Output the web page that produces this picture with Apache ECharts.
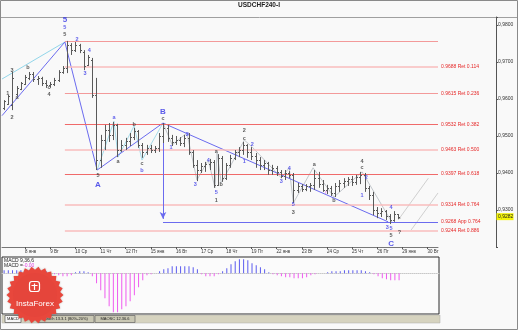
<!DOCTYPE html>
<html><head><meta charset="utf-8">
<script src="https://cdn.jsdelivr.net/npm/echarts@6/dist/echarts.min.js"></script>
<style>html,body{margin:0;padding:0;background:#f9f9f9}#c{width:518px;height:330px}</style>
</head><body><div id="c"></div>
<script>
// ---------------- DATA ----------------
const slotCount = 104;
const tickIndex = [5,11,17,23,29,35,41,47,53,59,65,71,77,83,89,95,101];
const tickText = ['8 янв','9 Вт','10 Ср','11 Чт','12 Пт','15 янв','16 Вт','17 Ср','18 Чт','19 Пт','22 янв','23 Вт','24 Ср','25 Чт','26 Пт','29 янв','30 Вт'];
// OHLC bars: [open, high, low, close]
const ohlc = [
[0.9576,0.9597,0.9570,0.9595],[0.9587,0.9611,0.9584,0.9608],[0.9584,0.9673,0.9570,0.9657],[0.9614,0.9635,0.9608,0.9630],
[0.9627,0.9646,0.9624,0.9643],[0.9641,0.9665,0.9638,0.9660],[0.9657,0.9673,0.9651,0.9668],[0.9668,0.9673,0.9646,0.9654],
[0.9654,0.9662,0.9638,0.9657],[0.9657,0.9660,0.9635,0.9643],[0.9643,0.9651,0.9630,0.9638],[0.9638,0.9646,0.9630,0.9641],
[0.9641,0.9657,0.9635,0.9651],[0.9651,0.9678,0.9646,0.9673],[0.9673,0.9689,0.9668,0.9684],[0.9684,0.9757,0.9670,0.9746],
[0.9746,0.9751,0.9719,0.9732],[0.9732,0.9754,0.9727,0.9746],[0.9746,0.9749,0.9724,0.9732],[0.9727,0.9732,0.9678,0.9689],
[0.9692,0.9719,0.9689,0.9714],[0.9705,0.9711,0.9603,0.9611],[0.9611,0.9657,0.9408,0.9435],[0.9435,0.9503,0.9414,0.9489],
[0.9489,0.9530,0.9462,0.9516],[0.9516,0.9535,0.9484,0.9503],[0.9503,0.9538,0.9489,0.9530],[0.9530,0.9533,0.9443,0.9462],
[0.9462,0.9489,0.9457,0.9476],[0.9476,0.9495,0.9462,0.9487],[0.9487,0.9508,0.9473,0.9497],[0.9497,0.9522,0.9489,0.9514],
[0.9514,0.9516,0.9468,0.9476],[0.9476,0.9481,0.9441,0.9457],[0.9457,0.9476,0.9449,0.9468],[0.9468,0.9476,0.9454,0.9462],
[0.9462,0.9473,0.9454,0.9468],[0.9468,0.9508,0.9457,0.9500],[0.9500,0.9535,0.9481,0.9522],[0.9522,0.9530,0.9484,0.9495],
[0.9495,0.9503,0.9473,0.9484],[0.9484,0.9500,0.9476,0.9489],[0.9489,0.9497,0.9473,0.9481],[0.9481,0.9503,0.9470,0.9495],
[0.9495,0.9508,0.9449,0.9457],[0.9457,0.9462,0.9414,0.9422],[0.9422,0.9435,0.9378,0.9408],[0.9408,0.9427,0.9400,0.9419],
[0.9419,0.9430,0.9403,0.9424],[0.9424,0.9438,0.9408,0.9430],[0.9430,0.9435,0.9360,0.9368],[0.9368,0.9451,0.9365,0.9441],
[0.9441,0.9446,0.9376,0.9386],[0.9386,0.9427,0.9381,0.9422],[0.9422,0.9449,0.9414,0.9441],[0.9441,0.9462,0.9435,0.9457],
[0.9457,0.9470,0.9443,0.9462],[0.9462,0.9484,0.9449,0.9476],[0.9476,0.9478,0.9441,0.9457],[0.9457,0.9470,0.9435,0.9446],
[0.9446,0.9454,0.9414,0.9435],[0.9435,0.9443,0.9408,0.9422],[0.9422,0.9435,0.9408,0.9427],[0.9427,0.9430,0.9395,0.9408],
[0.9408,0.9422,0.9395,0.9414],[0.9414,0.9419,0.9392,0.9403],[0.9403,0.9408,0.9386,0.9392],[0.9392,0.9408,0.9381,0.9400],
[0.9400,0.9405,0.9386,0.9395],[0.9395,0.9400,0.9319,0.9354],[0.9354,0.9373,0.9346,0.9365],[0.9365,0.9370,0.9349,0.9357],
[0.9357,0.9370,0.9351,0.9365],[0.9365,0.9373,0.9349,0.9368],[0.9368,0.9408,0.9354,0.9386],[0.9386,0.9403,0.9360,0.9370],
[0.9370,0.9381,0.9349,0.9354],[0.9354,0.9368,0.9343,0.9360],[0.9360,0.9365,0.9338,0.9346],[0.9346,0.9373,0.9335,0.9365],
[0.9365,0.9381,0.9349,0.9373],[0.9373,0.9386,0.9360,0.9378],[0.9378,0.9389,0.9365,0.9384],[0.9384,0.9392,0.9365,0.9376],
[0.9376,0.9395,0.9368,0.9389],[0.9389,0.9403,0.9370,0.9395],[0.9395,0.9400,0.9349,0.9360],[0.9360,0.9365,0.9327,0.9341],
[0.9341,0.9349,0.9286,0.9300],[0.9300,0.9308,0.9278,0.9292],[0.9292,0.9305,0.9281,0.9297],[0.9297,0.9300,0.9273,0.9284],
[0.9284,0.9289,0.9262,0.9273],[0.9273,0.9297,0.9268,0.9289],[0.9289,0.9289,0.9276,0.9282]
];
const lastPrice = 0.9282;
const macdHist = [
0.0003,0.0003,0.0003,0.0003,0.0003,0.0003,0.0003,0.0003,0.0002,0.0002,0.0002,0.0001,
-0.0001,-0.0002,-0.0003,-0.0003,-0.0002,
0.0001,0.0002,0.0002,0.0001,
-0.0003,-0.0010,-0.0017,-0.0025,-0.0033,-0.0039,-0.0039,-0.0036,-0.0033,-0.0028,-0.0022,-0.0014,-0.0007,
-0.0002,-0.0001,0,
0.0002,0.0004,0.0005,0.0007,0.0007,0.0007,0.0007,0.0007,0.0006,0.0004,
-0.0001,-0.0003,-0.0003,-0.0003,-0.0001,
0.0002,0.0005,0.0009,0.0012,0.0014,0.0014,0.0013,0.0010,0.0008,0.0006,0.0004,0.0001,
-0.0001,-0.0002,-0.0003,-0.0004,-0.0004,-0.0005,-0.0005,-0.0005,-0.0004,-0.0002,
-0.0001,0,0,
0.0001,0.0002,0.0002,0.0002,0.0003,0.0003,0.0003,0.0003,0.0003,0.0002,0.0001,
-0.0001,-0.0003,-0.0005,-0.0006,-0.0007,-0.0007,-0.0007
];
// Fibonacci levels
const fibStart = 14.5, fibEnd = 103.5;
const fibLevels = [0.9757,0.9688,0.9615,0.9532,0.9463,0.9397,0.9314,0.9244];
const fibNames = ['','Ret 0.114','Ret 0.236','Ret 0.382','Ret 0.500','Ret 0.618','Ret 0.764','Ret 0.886'];
const appLevel = 0.9268, appStart = 37.9, appName = 'App 0.764';
// wave lines [slot, price]
const lineCyanLeft = [[-0.5,0.9654],[14.5,0.9754]];
const lineBlueLeft = [[-0.5,0.9555],[14.5,0.9754]];
const lineBlueMain = [[14.5,0.9754],[22.2,0.9408],[37.9,0.9535],[91.6,0.9268]];
const lineCyanABC = [[22.2,0.9408],[26.2,0.9540],[27.2,0.9443],[31.0,0.9527],[32.9,0.9435],[37.9,0.9535]];
const lineGrayWaves = [[37.9,0.9535],[40.1,0.9476],[43.6,0.9508],[46.0,0.9381],[48.7,0.9435],[50.3,0.9360],[50.8,0.9454],[51.8,0.9373],[57.3,0.9489],[59.2,0.9470],[66.1,0.9387],[68.0,0.9414],[69.0,0.9319],[73.7,0.9414],[78.7,0.9335],[85.4,0.9403],[92.6,0.9265]];
const lineFcst1 = [[94.0,0.9273],[101.2,0.9386]];
const lineFcst2 = [[97.1,0.9246],[103.5,0.9346]];
const arrowFrom = [37.9,0.9530], arrowTo = [37.9,0.9276];
// wave labels [slot, price, text, kind]
const waveLabels = [
[14.5,0.9814,'5','B'],[14.5,0.9792,'5','b'],[14.5,0.9773,'5','k'],[17.4,0.9760,'2','b'],[20.3,0.9732,'4','b'],[19.3,0.9668,'3','b'],
[1.9,0.9678,'3','k'],[0.9,0.9616,'1','k'],[1.9,0.9551,'2','k'],[5.7,0.9684,'b','k'],[3.1,0.9605,'a','k'],[10.7,0.9630,'c','k'],[10.7,0.9611,'4','k'],
[26.2,0.9549,'a','b'],[31.0,0.9530,'b','k'],[27.2,0.9430,'a','k'],[22.4,0.9392,'5','k'],[22.4,0.9368,'A','B'],[32.9,0.9427,'c','k'],[32.9,0.9408,'b','b'],
[37.9,0.9565,'B','B'],[37.9,0.9546,'c','k'],[39.8,0.9468,'1','b'],[43.7,0.9505,'2','b'],[45.6,0.9368,'3','b'],[48.7,0.9433,'4','b'],[50.6,0.9346,'5','b'],
[50.6,0.9327,'1','k'],[50.6,0.9457,'a','k'],[51.8,0.9368,'b','k'],[57.3,0.9514,'2','k'],[57.3,0.9492,'c','k'],[59.2,0.9476,'2','b'],[57.3,0.9430,'1','b'],
[68.0,0.9411,'4','b'],[66.1,0.9376,'3','b'],[69.0,0.9314,'5','b'],[69.0,0.9292,'3','k'],[74.0,0.9422,'a','k'],[76.8,0.9346,'r','m'],[78.7,0.9325,'b','k'],
[85.4,0.9430,'4','k'],[85.4,0.9414,'c','k'],[86.4,0.9389,'2','b'],[85.4,0.9338,'1','b'],[92.3,0.9308,'4','b'],[91.4,0.9254,'3','b'],[92.3,0.9249,'5','b'],
[92.3,0.9230,'5','k'],[94.3,0.9238,'?','k'],[92.3,0.9208,'C','B'],[94.3,0.9278,'a','s']
];
// ---------------- CHART ----------------
const FONT = 'Liberation Sans';
const categories = Array.from({length: slotCount}, (_, i) => { const k = tickIndex.indexOf(i); return k >= 0 ? tickText[k] : ''; });
const tickSet = new Set(tickIndex);
const BLUE = '#6b6bef';
const strongFib = new Set([0.9757,0.9532,0.9397,0.9615]);

const fibMarks = fibLevels.map((v, k) => [
  {coord:[fibStart, v], name: fibNames[k] ? v.toFixed(4) + ' ' + fibNames[k] : '',
   lineStyle:{color: (v===0.9532||v===0.9397)?'#f06a6a':(strongFib.has(v)?'#f39a9a':'#f8bcbc'), width: strongFib.has(v)?1:1.5, type:'solid'},
   label:{show: !!fibNames[k], position:'end', formatter:'{b}', color:'#e62828', fontSize:5, fontFamily:FONT, distance:3}},
  {coord:[fibEnd, v]}
]);
fibMarks.push([
  {coord:[appStart, appLevel], name: appLevel.toFixed(4)+' '+appName, lineStyle:{color:BLUE, width:1, type:'solid'},
   label:{show:true, position:'end', formatter:'{b}', color:'#e62828', fontSize:5, fontFamily:FONT, distance:3}},
  {coord:[fibEnd, appLevel]}
]);
fibMarks.push([
  {coord: arrowFrom, symbol:'none', lineStyle:{color:BLUE, width:1, type:'solid'}, label:{show:false}},
  {coord: arrowTo, symbol:'arrow', symbolSize:[5,7]}
]);

function lineSeries(data, color, width) {
  return {type:'line', xAxisIndex:1, yAxisIndex:0, data, symbol:'none', silent:true, animation:false,
          lineStyle:{color, width: width||1}, z:3};
}
const kindStyle = {
  B:{color:'#2f2fe6', fontSize:8, fontWeight:'bold'},
  b:{color:'#3a3ae8', fontSize:5.5, fontWeight:'bold'},
  k:{color:'#333333', fontSize:5.5, fontWeight:'bold'},
  m:{color:'#e040e0', fontSize:5, fontWeight:'normal'},
  s:{color:'#444444', fontSize:4, fontWeight:'normal'}
};

const option = {
  animation:false,
  backgroundColor:'#f9f9f9',
  grid:[
    {left:2, top:17, width:436, height:230},
    {left:2, top:257, width:437, height:57, show:true, borderColor:'#2a2a2a', borderWidth:1, backgroundColor:'#fbfbfb'}
  ],
  xAxis:[
    {type:'category', gridIndex:0, data:categories, boundaryGap:true,
     axisLine:{show:true, onZero:false, lineStyle:{color:'#777', width:1}},
     axisTick:{show:true, alignWithLabel:true, interval:(i)=>tickSet.has(i), length:2, lineStyle:{color:'#555'}},
     axisLabel:{show:true, interval:(i)=>tickSet.has(i), fontSize:4.5, fontFamily:FONT, color:'#333', align:'left', margin:2},
     splitLine:{show:false}},
    {type:'value', gridIndex:0, min:-0.5, max:slotCount-0.5, show:false},
    {type:'category', gridIndex:1, data:categories, boundaryGap:true, axisLabel:{show:false}, axisTick:{show:false},
     axisLine:{show:true, onZero:true, lineStyle:{color:'#c8c8c8', type:'dotted', width:1}}}
  ],
  yAxis:[
    {type:'value', gridIndex:0, position:'right', offset:58, min:0.92, max:0.98216, interval:0.01, scale:true,
     axisLine:{show:true, onZero:false, lineStyle:{color:'#555'}}, axisTick:{show:true, length:2, lineStyle:{color:'#555'}},
     splitLine:{show:false},
     axisLabel:{fontSize:5, fontFamily:FONT, color:'#333', margin:2, formatter:(v)=>{
        const r = Math.round(v*100); if (Math.abs(v*100-r)>1e-6 || r===92) return '';
        return (r/100).toFixed(4).replace('.', ','); }}},
    {type:'value', gridIndex:1, min:-0.00407, max:0.00163, show:false}
  ],
  series:[
    lineSeries(lineCyanLeft, '#92d6ea'),
    lineSeries(lineCyanABC, '#a6dcea'),
    lineSeries(lineGrayWaves, '#c2c7cc'),
    lineSeries(lineFcst1, '#d0d0d0'),
    lineSeries(lineFcst2, '#d0d0d0'),
    Object.assign(lineSeries(lineBlueLeft, BLUE), {z:4}),
    Object.assign(lineSeries(lineBlueMain, BLUE), {z:4,
      markLine:{silent:true, animation:false, symbol:['none','none'], data: fibMarks}}),
    {type:'custom', xAxisIndex:0, yAxisIndex:0, z:5, silent:true, animation:false,
     data: ohlc.map((d,i)=>[i, d[0], d[1], d[2], d[3]]),
     encode:{x:0, y:[1,2,3,4]},
     renderItem:function(params, api){
       const i = api.value(0);
       const pO = api.coord([i, api.value(1)]), pH = api.coord([i, api.value(2)]);
       const pL = api.coord([i, api.value(3)]), pC = api.coord([i, api.value(4)]);
       const x = Math.round(pO[0]) + 0.5;
       const st = {stroke:'#5a5a5a', lineWidth:1};
       const yo = Math.round(pO[1]) + 0.5, yc = Math.round(pC[1]) + 0.5;
       return {type:'group', children:[
         {type:'line', shape:{x1:x, y1:pH[1], x2:x, y2:pL[1]}, style:st},
         {type:'line', shape:{x1:x-1.5, y1:yo, x2:x, y2:yo}, style:st},
         {type:'line', shape:{x1:x, y1:yc, x2:x+1.5, y2:yc}, style:st}
       ]};
     }},
    {type:'scatter', xAxisIndex:1, yAxisIndex:0, z:6, silent:true, animation:false, symbolSize:1,
     itemStyle:{color:'rgba(0,0,0,0)'},
     data: waveLabels.map(w => ({value:[w[0], w[1]],
       label:Object.assign({show:true, position:'inside', formatter:w[2], fontFamily:FONT}, kindStyle[w[3]])}))},
    {type:'bar', xAxisIndex:2, yAxisIndex:1, barWidth:1, silent:true, animation:false,
     data: macdHist.map(v => ({value:v, itemStyle:{color: v>=0 ? '#5b5bef' : '#ef5bef'}}))}
  ]
};

const chart = echarts.init(document.getElementById('c'), null, {renderer:'canvas', width:518, height:330});
chart.setOption(option);

// decorations
const yLast = chart.convertToPixel({yAxisIndex:0}, lastPrice);
const star = [];
const cx = 35, cy = 295, R = 28.5, r = 25.3, n = 26;
for (let k = 0; k < 2*n; k++) { const a = Math.PI*k/n; const rr = k%2 ? r : R; star.push([cx+rr*Math.cos(a), cy+rr*Math.sin(a)]); }
chart.setOption({graphic:[
  {type:'rect', shape:{x:0.5, y:0.5, width:517, height:329}, style:{fill:'none', stroke:'#8a8a8a', lineWidth:1}, z:1, silent:true},
  {type:'line', shape:{x1:1, y1:17.5, x2:518, y2:17.5}, style:{stroke:'#a0a0a0', lineWidth:1}, silent:true},
  {type:'text', x:259, y:2, style:{text:'USDCHF240-I', font:'bold 6.5px '+FONT, fill:'#222', align:'center'}, silent:true},
  {type:'rect', shape:{x:496.5, y:yLast-3.5, width:17, height:7}, style:{fill:'#f4f40a'}, z:10, silent:true},
  {type:'text', x:498, y:yLast, style:{text:lastPrice.toFixed(4).replace('.', ','), font:'5px '+FONT, fill:'#222', verticalAlign:'middle'}, z:11, silent:true},
  {type:'text', x:4, y:258, style:{text:'MACD 9,36,6', font:'5px '+FONT, fill:'#222'}, z:10, silent:true},
  {type:'text', x:4, y:263.5, style:{text:'MACD =', font:'5px '+FONT, fill:'#222'}, z:10, silent:true},
  {type:'text', x:23, y:263.5, style:{text:'-0.00', font:'5px '+FONT, fill:'#e040e0'}, z:10, silent:true},
  {type:'rect', shape:{x:2, y:315, width:438, height:8}, style:{fill:'#d6d3bf', stroke:'#aaa', lineWidth:0.5}, z:5, silent:true},
  {type:'rect', shape:{x:5, y:315.5, width:16, height:7}, style:{fill:'#f6f6f6', stroke:'#555', lineWidth:0.7}, z:6, silent:true},
  {type:'text', x:13, y:319, style:{text:'MACD', font:'4px '+FONT, fill:'#222', align:'center', verticalAlign:'middle'}, z:7, silent:true},
  {type:'rect', shape:{x:38, y:315.5, width:56, height:7}, style:{fill:'#c9c7b3', stroke:'#666', lineWidth:0.7}, z:6, silent:true},
  {type:'text', x:66, y:319, style:{text:'Stoch 13.3.1 (80%-20%)', font:'4px '+FONT, fill:'#222', align:'center', verticalAlign:'middle'}, z:7, silent:true},
  {type:'rect', shape:{x:95, y:315.5, width:40, height:7}, style:{fill:'#c9c7b3', stroke:'#666', lineWidth:0.7}, z:6, silent:true},
  {type:'text', x:115, y:319, style:{text:'MAOSC 12.36.6', font:'4px '+FONT, fill:'#222', align:'center', verticalAlign:'middle'}, z:7, silent:true},
  {type:'polygon', shape:{points:star}, style:{fill:'#e8473c', shadowBlur:2, shadowColor:'rgba(0,0,0,0.25)'}, z:20, silent:true},
  {type:'circle', shape:{cx:cx, cy:cy, r:22}, style:{fill:'#e5453b'}, z:21, silent:true},
  {type:'rect', shape:{x:29.5, y:281.5, width:10, height:10, r:2.5}, style:{fill:'none', stroke:'#fff', lineWidth:1.2}, z:22, silent:true},
  {type:'line', shape:{x1:34.5, y1:283.5, x2:34.5, y2:290}, style:{stroke:'#fff', lineWidth:1.2}, z:22, silent:true},
  {type:'line', shape:{x1:31.5, y1:285.5, x2:37.5, y2:285.5}, style:{stroke:'#fff', lineWidth:1}, z:22, silent:true},
  {type:'text', x:35, y:304, style:{text:'InstaForex', font:'8px '+FONT, fill:'#ffffff', align:'center', verticalAlign:'middle'}, z:22, silent:true}
]});
</script>
</body></html>
